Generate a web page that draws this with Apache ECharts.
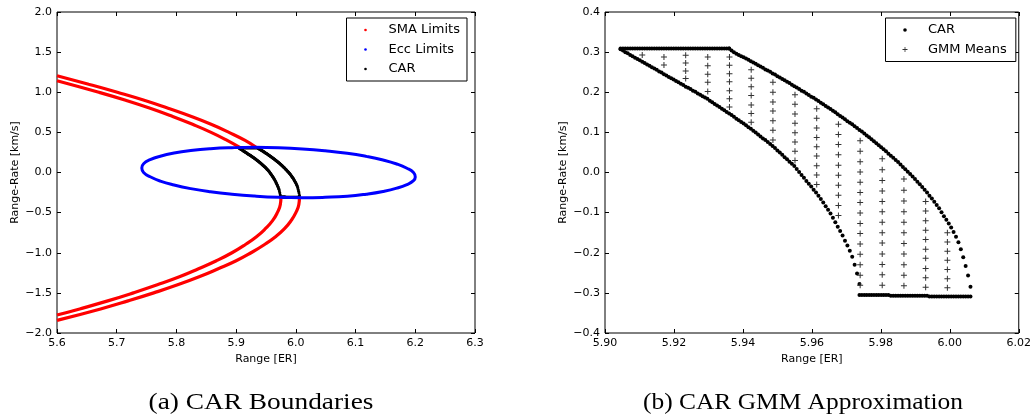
<!DOCTYPE html>
<html>
<head>
<meta charset="utf-8">
<script src="https://cdn.jsdelivr.net/npm/echarts@6/dist/echarts.min.js"></script>
<style>
  html, body { margin: 0; padding: 0; background: #fff; }
  #chart { width: 1034px; height: 417px; }
</style>
</head>
<body>
<div id="chart"></div>
<script>
// ---- Admissible region data (range in Earth radii, range-rate in km/s) ----

// Common range grid on which the CAR boundary was sampled
const carRange = [
  5.9045, 5.9052, 5.9059, 5.9066, 5.9073, 5.9080, 5.9087, 5.9094, 5.9101, 5.9108,
  5.9115, 5.9122, 5.9129, 5.9136, 5.9143, 5.9150, 5.9157, 5.9164, 5.9171, 5.9178,
  5.9185, 5.9192, 5.9199, 5.9206, 5.9213, 5.9220, 5.9227, 5.9234, 5.9241, 5.9248,
  5.9255, 5.9262, 5.9269, 5.9276, 5.9283, 5.9290, 5.9297, 5.9304, 5.9311, 5.9318,
  5.9325, 5.9332, 5.9339, 5.9346, 5.9353, 5.9360, 5.9367, 5.9374, 5.9381, 5.9388,
  5.9395, 5.9402, 5.9409, 5.9416, 5.9423, 5.9430, 5.9437, 5.9444, 5.9451, 5.9458,
  5.9465, 5.9472, 5.9479, 5.9486, 5.9493, 5.9500, 5.9507, 5.9514, 5.9521, 5.9528,
  5.9535, 5.9542, 5.9549, 5.9556, 5.9563, 5.9570, 5.9577, 5.9584, 5.9591, 5.9598,
  5.9605, 5.9612, 5.9619, 5.9626, 5.9633, 5.9640, 5.9647, 5.9654, 5.9661, 5.9668,
  5.9675, 5.9682, 5.9689, 5.9696, 5.9703, 5.9710, 5.9717, 5.9724, 5.9731, 5.9738,
  5.9745, 5.9752, 5.9759, 5.9766, 5.9773, 5.9780, 5.9787, 5.9794, 5.9801, 5.9808,
  5.9815, 5.9822, 5.9829, 5.9836, 5.9843, 5.9850, 5.9857, 5.9864, 5.9871, 5.9878,
  5.9885, 5.9892, 5.9899, 5.9906, 5.9913, 5.9920, 5.9927, 5.9934, 5.9941, 5.9948,
  5.9955, 5.9962, 5.9969, 5.9976, 5.9983, 5.9990, 5.9997, 6.0004, 6.0011, 6.0018,
  6.0025, 6.0032, 6.0039, 6.0046, 6.0053, 6.0060
];

// Upper edge (eccentricity limit), grid points 0..45
const carTopRate = [
  0.309, 0.309, 0.309, 0.309, 0.309, 0.309, 0.309, 0.309, 0.309, 0.309,
  0.309, 0.309, 0.309, 0.309, 0.309, 0.309, 0.309, 0.309, 0.309, 0.309,
  0.309, 0.309, 0.309, 0.309, 0.309, 0.309, 0.309, 0.309, 0.309, 0.309,
  0.309, 0.309, 0.309, 0.309, 0.309, 0.309, 0.309, 0.309, 0.309, 0.309,
  0.309, 0.309, 0.309, 0.309, 0.309, 0.309
];

// Inner SMA edge, grid points 0..99
const carLeftRate = [
  0.307, 0.304, 0.300, 0.297, 0.293, 0.290, 0.286, 0.283, 0.280, 0.276,
  0.273, 0.269, 0.266, 0.262, 0.259, 0.256, 0.252, 0.249, 0.245, 0.242,
  0.238, 0.235, 0.232, 0.228, 0.225, 0.221, 0.218, 0.214, 0.211, 0.208,
  0.204, 0.201, 0.197, 0.194, 0.190, 0.187, 0.184, 0.179, 0.175, 0.171,
  0.167, 0.163, 0.159, 0.155, 0.151, 0.147, 0.143, 0.139, 0.134, 0.130,
  0.126, 0.122, 0.118, 0.113, 0.109, 0.104, 0.100, 0.095, 0.090, 0.085,
  0.081, 0.076, 0.071, 0.066, 0.061, 0.055, 0.050, 0.044, 0.038, 0.033,
  0.027, 0.022, 0.016, 0.009, 0.001, -0.006, -0.013, -0.021, -0.028, -0.035,
  -0.043, -0.050, -0.058, -0.066, -0.075, -0.084, -0.093, -0.102, -0.113, -0.124,
  -0.135, -0.146, -0.157, -0.170, -0.182, -0.195, -0.210, -0.230, -0.252, -0.278
];

// Outer SMA edge, grid points 45..145
const carRightRate = [
  0.309, 0.304, 0.300, 0.296, 0.293, 0.290, 0.287, 0.284, 0.281, 0.277,
  0.274, 0.271, 0.267, 0.264, 0.261, 0.257, 0.254, 0.251, 0.247, 0.244,
  0.240, 0.237, 0.233, 0.230, 0.226, 0.223, 0.219, 0.215, 0.212, 0.208,
  0.204, 0.201, 0.197, 0.193, 0.189, 0.186, 0.182, 0.178, 0.174, 0.170,
  0.166, 0.162, 0.158, 0.154, 0.150, 0.145, 0.141, 0.137, 0.133, 0.128,
  0.124, 0.120, 0.115, 0.111, 0.106, 0.102, 0.097, 0.092, 0.088, 0.083,
  0.078, 0.073, 0.068, 0.063, 0.058, 0.053, 0.047, 0.042, 0.037, 0.031,
  0.026, 0.020, 0.014, 0.008, 0.002, -0.004, -0.010, -0.016, -0.023, -0.029,
  -0.036, -0.043, -0.050, -0.058, -0.065, -0.073, -0.081, -0.089, -0.099, -0.109,
  -0.118, -0.127, -0.137, -0.148, -0.160, -0.174, -0.191, -0.211, -0.233, -0.257,
  -0.285
];

// Lower edge (eccentricity limit), grid points 99..145
const carBottomRate = [
  -0.305, -0.305, -0.305, -0.305, -0.305, -0.305, -0.305, -0.305, -0.305, -0.305,
  -0.305, -0.305, -0.305, -0.307, -0.307, -0.307, -0.307, -0.307, -0.307, -0.307,
  -0.307, -0.307, -0.307, -0.307, -0.307, -0.307, -0.307, -0.307, -0.307, -0.309,
  -0.309, -0.309, -0.309, -0.309, -0.309, -0.309, -0.309, -0.309, -0.309, -0.309,
  -0.309, -0.309, -0.309, -0.309, -0.309, -0.309, -0.309
];

// GMM component means: one column per range value
const gmmRange = [5.9108, 5.9171, 5.9234, 5.9298, 5.9361, 5.9424, 5.9487, 5.9551,
                  5.9614, 5.9677, 5.9740, 5.9804, 5.9867, 5.9930, 5.9993];
const gmmRates = [
  [0.293],
  [0.288, 0.268],
  [0.292, 0.273, 0.253, 0.234],
  [0.288, 0.266, 0.245, 0.225, 0.202],
  [0.288, 0.267, 0.246, 0.226, 0.204, 0.184, 0.163],
  [0.256, 0.235, 0.214, 0.192, 0.168, 0.147, 0.125],
  [0.225, 0.200, 0.176, 0.153, 0.129, 0.105, 0.081],
  [0.194, 0.170, 0.146, 0.123, 0.099, 0.076, 0.053, 0.030],
  [0.159, 0.135, 0.111, 0.087, 0.064, 0.041, 0.017, -0.006, -0.030],
  [0.120, 0.095, 0.070, 0.044, 0.018, -0.007, -0.032, -0.057, -0.082, -0.107],
  [0.079, 0.053, 0.027, 0.001, -0.024, -0.050, -0.075, -0.101, -0.127, -0.152, -0.178, -0.204, -0.230, -0.256, -0.281],
  [0.034, 0.007, -0.020, -0.046, -0.072, -0.098, -0.124, -0.150, -0.176, -0.203, -0.229, -0.255, -0.281],
  [-0.016, -0.044, -0.071, -0.098, -0.124, -0.150, -0.177, -0.203, -0.230, -0.256, -0.282],
  [-0.072, -0.096, -0.120, -0.144, -0.167, -0.191, -0.214, -0.239, -0.262, -0.286],
  [-0.150, -0.173, -0.196, -0.219, -0.242, -0.265, -0.287]
];

// Eccentricity limit (closed curve)
const eccRange = [5.971, 5.931, 5.893, 5.857, 5.824, 5.796, 5.773, 5.756, 5.745, 5.742,
                  5.745, 5.756, 5.773, 5.796, 5.824, 5.857, 5.893, 5.931, 5.971, 6.011,
                  6.049, 6.086, 6.118, 6.146, 6.169, 6.186, 6.197, 6.200, 6.197, 6.186,
                  6.169, 6.146, 6.118, 6.086, 6.049, 6.011, 5.971];
const eccRate = [0.309, 0.314, 0.309, 0.296, 0.273, 0.242, 0.203, 0.159, 0.109, 0.056,
                 0.001, -0.053, -0.107, -0.156, -0.201, -0.240, -0.271, -0.294, -0.309, -0.314,
                 -0.309, -0.296, -0.270, -0.236, -0.195, -0.150, -0.102, -0.056, -0.001, 0.053,
                 0.106, 0.156, 0.201, 0.240, 0.271, 0.294, 0.309];

// Semi-major-axis limits, outside the eccentricity band
const smaOuterUpper = [[5.600, 1.205], [5.653, 1.100], [5.701, 1.000], [5.746, 0.900], [5.786, 0.800],
                       [5.824, 0.700], [5.858, 0.600], [5.888, 0.500], [5.915, 0.400], [5.934, 0.312]];
const smaOuterLower = [[6.006, -0.310], [6.005, -0.400], [6.000, -0.500], [5.992, -0.600], [5.981, -0.700],
                       [5.966, -0.800], [5.947, -0.900], [5.925, -1.000], [5.900, -1.100], [5.870, -1.200],
                       [5.838, -1.300], [5.802, -1.400], [5.762, -1.500], [5.719, -1.600], [5.673, -1.700],
                       [5.600, -1.843]];
const smaInnerUpper = [[5.600, 1.144], [5.670, 1.000], [5.715, 0.900], [5.756, 0.800], [5.793, 0.700],
                       [5.827, 0.600], [5.858, 0.500], [5.885, 0.400], [5.906, 0.312]];
const smaInnerLower = [[5.975, -0.310], [5.974, -0.400], [5.969, -0.500], [5.961, -0.600], [5.949, -0.700],
                       [5.934, -0.800], [5.915, -0.900], [5.893, -1.000], [5.867, -1.100], [5.837, -1.200],
                       [5.805, -1.300], [5.768, -1.400], [5.728, -1.500], [5.685, -1.600], [5.638, -1.700],
                       [5.600, -1.776]];

// ---- Assemble point lists ----
function zipFrom(xs, ys, start) {
  return ys.map((y, i) => [xs[start + i], y]);
}
const carPoints = [].concat(
  zipFrom(carRange, carTopRate, 0),
  zipFrom(carRange, carLeftRate, 0),
  zipFrom(carRange, carRightRate, 45),
  zipFrom(carRange, carBottomRate, 99)
);
const gmmPoints = [];
gmmRange.forEach((r, i) => gmmRates[i].forEach(v => gmmPoints.push([r, v])));
const eccPoints = eccRange.map((r, i) => [r, eccRate[i]]);

// ---- Styling helpers ----
const FONT = 'DejaVu Sans';
const minus = s => s.replace('-', '\u2212');
const plusSymbol = 'path://M2.5,0H3.5V2.5H6V3.5H3.5V6H2.5V3.5H0V2.5H2.5Z';
// legend icons sit inside a fixed 30x6 box so the marker stays small
const dotIcon = 'path://M0,0M30,6M10.7,3A1.3,1.3,0,1,0,13.3,3A1.3,1.3,0,1,0,10.7,3Z';
const dotIconBig = 'path://M0,0M30,6M10.2,3A1.8,1.8,0,1,0,13.8,3A1.8,1.8,0,1,0,10.2,3Z';
const plusIcon = 'path://M0,0M30,6M11.6,0.5H12.4V2.6H14.5V3.4H12.4V5.5H11.6V3.4H9.5V2.6H11.6Z';

const tickStyle = { show: true, inside: true, length: 4, lineStyle: { color: '#000', width: 1 } };

function xAxisDef(grid, pos, min, max, step, digits, name) {
  return {
    type: 'value', gridIndex: grid, position: pos, min: min, max: max, interval: step,
    axisLine: { show: false, onZero: false },
    axisTick: tickStyle,
    splitLine: { show: false },
    axisLabel: pos === 'bottom' ? {
      show: true, margin: 5, color: '#000', fontSize: 11, fontFamily: FONT,
      formatter: v => minus(v.toFixed(digits))
    } : { show: false },
    name: pos === 'bottom' ? name : '',
    nameLocation: 'middle', nameGap: 21,
    nameTextStyle: { color: '#000', fontSize: 11, fontFamily: FONT }
  };
}
function yAxisDef(grid, pos, min, max, step, digits, name) {
  return {
    type: 'value', gridIndex: grid, position: pos, min: min, max: max, interval: step,
    axisLine: { show: false, onZero: false },
    axisTick: tickStyle,
    splitLine: { show: false },
    axisLabel: pos === 'left' ? {
      show: true, margin: 5, color: '#000', fontSize: 11, fontFamily: FONT,
      formatter: v => minus(v.toFixed(digits))
    } : { show: false },
    name: pos === 'left' ? name : '',
    nameLocation: 'middle', nameGap: 36, nameRotate: 90,
    nameTextStyle: { color: '#000', fontSize: 11, fontFamily: FONT }
  };
}

function smaSeries(data) {
  return {
    name: 'SMA Limits', type: 'line', xAxisIndex: 0, yAxisIndex: 0,
    data: data, smooth: true, showSymbol: false, symbol: 'none',
    lineStyle: { color: '#ff0000', width: 3.2 }, itemStyle: { color: '#ff0000' },
    silent: true
  };
}

const legendText = { color: '#000', fontSize: 13, fontFamily: FONT, lineHeight: 14 };

const option = {
  animation: false,
  backgroundColor: '#fff',
  grid: [
    { left: 57, top: 12, width: 418, height: 321, show: true, borderColor: '#000', borderWidth: 1, backgroundColor: 'transparent' },
    { left: 605, top: 12, width: 417, height: 321, show: true, borderColor: '#000', borderWidth: 1, backgroundColor: 'transparent' }
  ],
  xAxis: [
    xAxisDef(0, 'bottom', 5.6, 6.3, 0.1, 1, 'Range [ER]'),
    xAxisDef(0, 'top', 5.6, 6.3, 0.1, 1, ''),
    xAxisDef(1, 'bottom', 5.90, 6.02, 0.02, 2, 'Range [ER]'),
    xAxisDef(1, 'top', 5.90, 6.02, 0.02, 2, '')
  ],
  yAxis: [
    yAxisDef(0, 'left', -2, 2, 0.5, 1, 'Range-Rate [km/s]'),
    yAxisDef(0, 'right', -2, 2, 0.5, 1, ''),
    yAxisDef(1, 'left', -0.4, 0.4, 0.1, 1, 'Range-Rate [km/s]'),
    yAxisDef(1, 'right', -0.4, 0.4, 0.1, 1, '')
  ],
  legend: [
    {
      left: 346.5, top: 18, orient: 'vertical', itemWidth: 30, itemHeight: 6, itemGap: 5.5,
      padding: [5, 7, 5, 7], borderColor: '#000', borderWidth: 1, backgroundColor: '#fff',
      textStyle: legendText, selectedMode: false,
      data: [
        { name: 'SMA Limits', icon: dotIcon },
        { name: 'Ecc Limits', icon: dotIcon },
        { name: 'CAR', icon: dotIcon }
      ]
    },
    {
      left: 885.5, top: 18, orient: 'vertical', itemWidth: 30, itemHeight: 6, itemGap: 5.5,
      padding: [5, 9, 5, 7.5], borderColor: '#000', borderWidth: 1, backgroundColor: '#fff',
      textStyle: legendText, selectedMode: false,
      data: [
        { name: 'CAR', icon: dotIconBig },
        { name: 'GMM Means', icon: plusIcon }
      ]
    }
  ],
  graphic: [
    { type: 'text', x: 261, y: 403, scaleX: 1.14, style: { text: '(a) CAR Boundaries', fontSize: 24, fontFamily: 'Liberation Serif', fill: '#000', align: 'center', verticalAlign: 'middle' } },
    { type: 'text', x: 803, y: 403, scaleX: 1.06, style: { text: '(b) CAR GMM Approximation', fontSize: 24, fontFamily: 'Liberation Serif', fill: '#000', align: 'center', verticalAlign: 'middle' } }
  ],
  series: [
    smaSeries(smaOuterUpper),
    smaSeries(smaOuterLower),
    smaSeries(smaInnerUpper),
    smaSeries(smaInnerLower),
    {
      name: 'Ecc Limits', type: 'line', xAxisIndex: 0, yAxisIndex: 0,
      data: eccPoints, smooth: true, showSymbol: false, symbol: 'none',
      lineStyle: { color: '#0000ff', width: 3 }, itemStyle: { color: '#0000ff' }, silent: true
    },
    {
      name: 'CAR', type: 'scatter', xAxisIndex: 0, yAxisIndex: 0,
      data: carPoints, symbol: 'circle', symbolSize: 3,
      itemStyle: { color: '#000', opacity: 1 }, silent: true
    },
    {
      name: 'CAR', type: 'scatter', xAxisIndex: 2, yAxisIndex: 2,
      data: carPoints, symbol: 'circle', symbolSize: 4,
      itemStyle: { color: '#000', opacity: 1 }, silent: true
    },
    {
      name: 'GMM Means', type: 'scatter', xAxisIndex: 2, yAxisIndex: 2,
      data: gmmPoints, symbol: plusSymbol, symbolSize: 6,
      itemStyle: { color: '#333', opacity: 1 }, silent: true
    }
  ]
};

const chart = echarts.init(document.getElementById('chart'), null, { renderer: 'canvas' });
chart.setOption(option);
</script>
</body>
</html>
